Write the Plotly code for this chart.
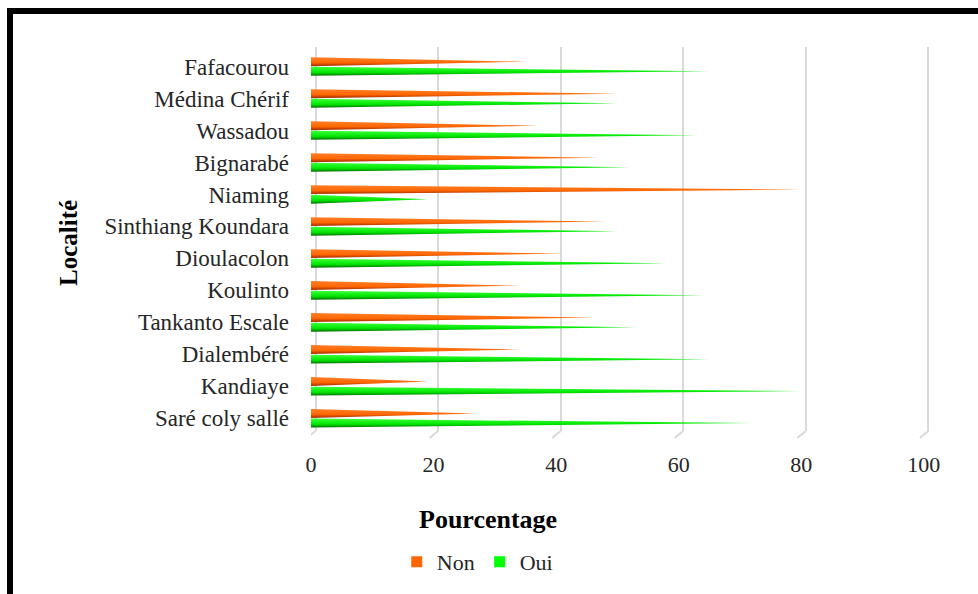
import plotly.graph_objects as go

# ---- data ----
localites = ["Fafacourou", "Médina Chérif", "Wassadou", "Bignarabé", "Niaming",
             "Sinthiang Koundara", "Dioulacolon", "Koulinto", "Tankanto Escale",
             "Dialembéré", "Kandiaye", "Saré coly sallé"]
non_vals = [35, 50, 37, 47, 80, 48, 41, 34, 46, 34, 19, 27]
oui_vals = [65, 50, 63, 52, 19, 50, 58, 64, 53, 65, 80, 72]
x_ticks = [0, 20, 40, 60, 80, 100]

# ---- geometry / style ----
L, R, T, B = 311, 48, 47, 163       # margins (px)
W, H = 978, 594
PW, PH = W - L - R, H - T - B
XMAX = 101
PXU = PW / XMAX
GRID_SHIFT = 4.5 / PXU             # back-wall grid offset
HALF = 0.14
OFF = 0.15
FONT = "Liberation Serif"
TXT = "#262626"

orange_cs = [[0, "#9C3300"], [0.18, "#C94400"], [0.38, "#FF6600"], [1, "#FF7F2A"]]
green_cs = [[0, "#006E00"], [0.18, "#00A800"], [0.38, "#00E600"], [1, "#3DFF3D"]]

n = len(localites)
fig = go.Figure()

for i, name in enumerate(localites):
    yc = n - 1 - i
    for vals, off, cs in ((non_vals, OFF, orange_cs), (oui_vals, -OFF, green_cs)):
        v = vals[i]
        yb = yc + off
        fig.add_trace(go.Scatter(
            x=[0, v, 0, 0], y=[yb - HALF, yb, yb + HALF, yb - HALF],
            mode="lines", line=dict(width=0), fill="toself",
            fillgradient=dict(type="vertical", colorscale=cs),
            showlegend=False, hoverinfo="skip"))

# legend entries
fig.add_trace(go.Scatter(x=[None], y=[None], mode="markers", name="Non",
                         marker=dict(symbol="square", size=11, color="#FF6600")))
fig.add_trace(go.Scatter(x=[None], y=[None], mode="markers", name="Oui",
                         marker=dict(symbol="square", size=11, color="#00FF00")))

# grid carrier on a shifted overlaying axis
fig.add_trace(go.Scatter(x=[None], y=[None], xaxis="x2", showlegend=False, hoverinfo="skip"))

ylo = -(431 - 418.3) / 31.98
yhi = ylo + PH / 31.98

fig.update_layout(
    width=W, height=H,
    margin=dict(l=L, r=R, t=T, b=B),
    paper_bgcolor="white", plot_bgcolor="white",
    font=dict(family=FONT, size=22, color=TXT),
    xaxis=dict(range=[0, XMAX], tickvals=x_ticks, showgrid=False, zeroline=False,
               showline=False, ticks="", ticklabelstandoff=18,
               tickfont=dict(family=FONT, size=22, color=TXT)),
    xaxis2=dict(range=[-GRID_SHIFT, XMAX - GRID_SHIFT], overlaying="x",
                tickvals=x_ticks, showticklabels=False, showgrid=True,
                gridcolor="#D9D9D9", gridwidth=2, zeroline=False, showline=False),
    yaxis=dict(range=[ylo, yhi], tickvals=list(range(n - 1, -1, -1)),
               ticktext=localites, showgrid=False, zeroline=False, showline=False,
               ticks="", ticklabelstandoff=21,
               tickfont=dict(family=FONT, size=23, color=TXT)),
    legend=dict(orientation="h", xref="container", yref="container",
                x=0.488, y=1 - 562 / H, xanchor="center", yanchor="middle",
                font=dict(family=FONT, size=22, color=TXT), itemwidth=30,
                traceorder="normal"),
    showlegend=True,
)

def px_x(px):
    return (px - L) / PW

def px_y(py):
    return (H - B - py) / PH

# axis titles
fig.add_annotation(text="<b>Pourcentage</b>", xref="paper", yref="paper",
                   x=px_x(488), y=px_y(519), xanchor="center", yanchor="middle",
                   showarrow=False, font=dict(family=FONT, size=26, color="black"))
fig.add_annotation(text="<b>Localité</b>", xref="paper", yref="paper",
                   x=px_x(68), y=px_y(243), xanchor="center", yanchor="middle",
                   showarrow=False, textangle=-90,
                   font=dict(family=FONT, size=25, color="black"))

shapes = []
# floor slants at gridline bottoms
for g in x_ticks:
    shapes.append(dict(type="line", xref="x", yref="paper",
                       x0=g + GRID_SHIFT, y0=0, x1=g - 4 / PXU, y1=px_y(438),
                       line=dict(color="#D9D9D9", width=2), layer="below"))
# outer frame (top and left black borders)
shapes.append(dict(type="rect", xref="paper", yref="paper",
                   x0=px_x(7), x1=px_x(980), y0=px_y(14), y1=px_y(8),
                   fillcolor="black", line=dict(width=0)))
shapes.append(dict(type="rect", xref="paper", yref="paper",
                   x0=px_x(7), x1=px_x(13), y0=px_y(596), y1=px_y(8),
                   fillcolor="black", line=dict(width=0)))
fig.update_layout(shapes=shapes)

fig.write_html("out.html", config={"displayModeBar": False},
               post_script="document.body.style.margin='0';document.body.style.padding='0';")
